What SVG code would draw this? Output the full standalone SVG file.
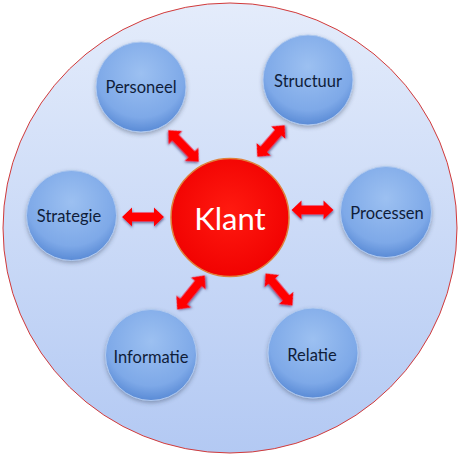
<svg xmlns="http://www.w3.org/2000/svg" width="460" height="455" viewBox="0 0 460 455">
  <defs>
    <linearGradient id="bg" x1="0" y1="0" x2="0" y2="1">
      <stop offset="0" stop-color="#e4ecfb"/>
      <stop offset="1" stop-color="#b3c9f3"/>
    </linearGradient>
    <radialGradient id="blue" cx="0.5" cy="0.35" r="0.65">
      <stop offset="0" stop-color="#9cc0f1"/>
      <stop offset="0.75" stop-color="#7ea9e8"/>
      <stop offset="1" stop-color="#5a8bd6"/>
    </radialGradient>
    <radialGradient id="red" cx="0.5" cy="0.45" r="0.6">
      <stop offset="0" stop-color="#ff1a10"/>
      <stop offset="1" stop-color="#f00000"/>
    </radialGradient>
    <filter id="shadow" x="-20%" y="-20%" width="140%" height="150%">
      <feDropShadow dx="0" dy="2" stdDeviation="2" flood-color="#30405a" flood-opacity="0.4"/>
    </filter>
    <filter id="ashadow" x="-30%" y="-60%" width="160%" height="220%">
      <feDropShadow dx="0.5" dy="1.5" stdDeviation="1" flood-color="#3a3a70" flood-opacity="0.7"/>
    </filter>
    <path id="dbl" d="M-21,0 L-11,-9.5 L-11,-4.5 L11,-4.5 L11,-9.5 L21,0 L11,9.5 L11,4.5 L-11,4.5 L-11,9.5 Z"/>
  </defs>
  <style>
    .sat{fill:url(#blue);stroke:#b0c9ef;stroke-width:1;filter:url(#shadow)}
    .lbl{font-family:Lato,"Liberation Sans",sans-serif;font-size:16.5px;fill:#0f1d3a;text-anchor:middle}
    .arr{fill:#ff0000;filter:url(#ashadow)}
  </style>

  <g id="background">
    <ellipse cx="230" cy="228" rx="227" ry="225" fill="url(#bg)" stroke="#d23a3a" stroke-width="1"/>
  </g>

  <g id="connectors">
    <use href="#dbl" class="arr" transform="translate(183.5,146) rotate(46) scale(1.05,1)"/>
    <use href="#dbl" class="arr" transform="translate(271,141) rotate(-49)"/>
    <use href="#dbl" class="arr" transform="translate(143,217)"/>
    <use href="#dbl" class="arr" transform="translate(312.5,210)"/>
    <use href="#dbl" class="arr" transform="translate(191,292.5) rotate(-51) scale(1.05,1)"/>
    <use href="#dbl" class="arr" transform="translate(279,289.5) rotate(50)"/>
  </g>

  <g id="node-personeel">
    <circle class="sat" cx="141" cy="87" r="45"/>
    <text class="lbl" x="141" y="93">Personeel</text>
  </g>
  <g id="node-structuur">
    <circle class="sat" cx="308" cy="80" r="45"/>
    <text class="lbl" x="308" y="87">Structuur</text>
  </g>
  <g id="node-strategie">
    <circle class="sat" cx="71.5" cy="215.5" r="45"/>
    <text class="lbl" x="69" y="222">Strategie</text>
  </g>
  <g id="node-processen">
    <circle class="sat" cx="386" cy="212" r="45.5"/>
    <text class="lbl" x="387" y="219">Processen</text>
  </g>
  <g id="node-informatie">
    <circle class="sat" cx="151" cy="355" r="45.5"/>
    <text class="lbl" x="151" y="363">Informatie</text>
  </g>
  <g id="node-relatie">
    <circle class="sat" cx="313" cy="353" r="45"/>
    <text class="lbl" x="312" y="361">Relatie</text>
  </g>
  <g id="node-klant">
    <circle cx="230" cy="217.5" r="59" fill="url(#red)" stroke="#e0803a" stroke-width="1.5"/>
    <text x="230" y="230" font-family="Lato,'Liberation Sans',sans-serif" font-size="31" fill="#ffffff" text-anchor="middle">Klant</text>
  </g>
</svg>
